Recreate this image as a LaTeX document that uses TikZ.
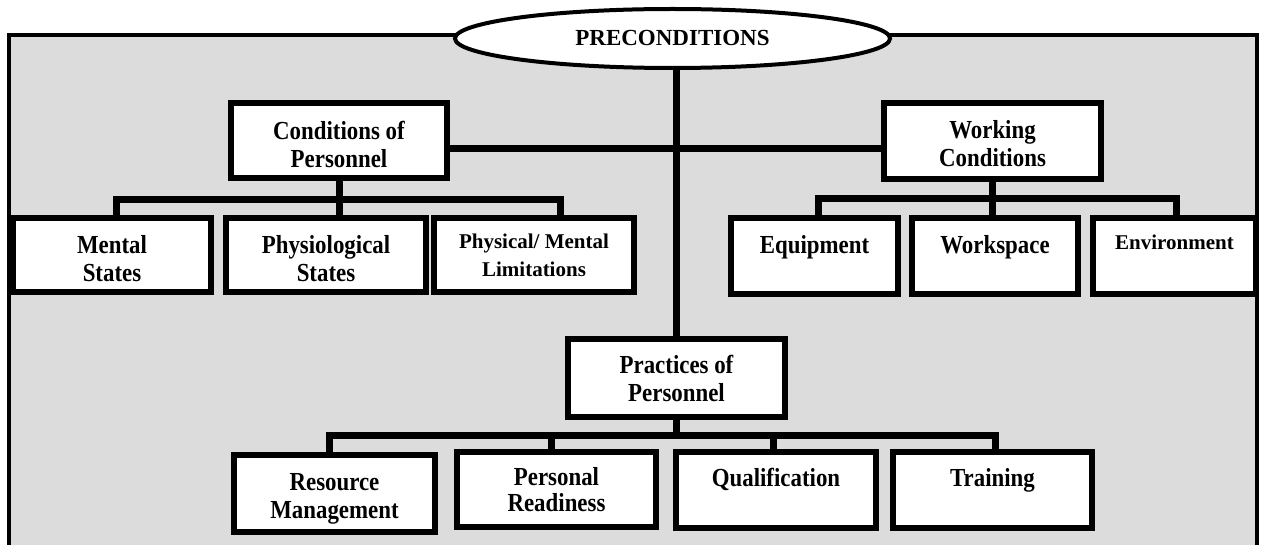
\documentclass[tikz,border=0pt]{standalone}
\usepackage{fontspec}
\setmainfont{Liberation Serif}
\newfontfamily\condfont[FakeStretch=0.88]{Liberation Serif}
\usetikzlibrary{shapes.geometric}
\definecolor{panel}{RGB}{220,220,220}
\newcommand\hs[1]{\rule{0pt}{#1pt}}
\tikzset{
  box/.style={draw=black, fill=white, line width=4pt, inner sep=0pt, align=center,
    font=\condfont\fontsize{26}{28}\selectfont\bfseries},
  smallbox/.style={box, font=\fontsize{21}{28}\selectfont\bfseries},
  titlebox/.style={box, ellipse, font=\fontsize{23}{27}\selectfont\bfseries},
  conn/.style={draw=black, line width=7pt, line join=miter, line cap=butt},
  frameline/.style={draw=black, line width=4pt},
}
\begin{document}
\begin{tikzpicture}[x=1pt,y=-1pt]
\useasboundingbox (0,0) rectangle (1261,545);
\clip (0,0) rectangle (1261,545);
% background frame (open at the bottom)
\fill[panel] (9,35) rectangle (1257,560);
\draw[frameline] (9,560) -- (9,35) -- (1257,35) -- (1257,560);

% nodes
\node[titlebox, minimum width=435pt, minimum height=59pt] (ell) at (672.5,38.5) {PRECONDITIONS};
\node[box, minimum width=214pt, minimum height=73pt] (cond) at (339,140.5) {\hs{27}Conditions of\\Personnel};
\node[box, minimum width=215pt, minimum height=74pt] (work) at (992.5,141) {\hs{24}Working\\Conditions};

\node[box, minimum width=196pt, minimum height=72pt] (mental) at (112,255) {\hs{25}Mental\\States};
\node[box, minimum width=198pt, minimum height=72pt] (physio) at (326,255) {\hs{25}Physiological\\States};
\node[smallbox, minimum width=198pt, minimum height=72pt] (physical) at (534,255) {\hs{16}Physical/ Mental\\Limitations};

\node[box, minimum width=165pt, minimum height=74pt] (equip) at (814.5,256) {\hs{23}Equipment\\\mbox{}};
\node[box, minimum width=164pt, minimum height=74pt] (wspace) at (995,256) {\hs{23}Workspace\\\mbox{}};
\node[smallbox, minimum width=161pt, minimum height=74pt] (env) at (1174.5,256) {\hs{16}Environment\\\mbox{}};

\node[box, minimum width=215pt, minimum height=76pt] (pract) at (676.5,378) {\hs{19}Practices of\\Personnel};

\node[box, minimum width=199pt, minimum height=75pt] (resource) at (334.5,493.5) {\hs{28}Resource\\Management};
\node[box, minimum width=197pt, minimum height=73pt, font=\condfont\fontsize{26}{26}\selectfont\bfseries] (personal) at (556.5,489.5) {\hs{19}Personal\\Readiness};
\node[box, minimum width=198pt, minimum height=74pt] (qual) at (776,490) {\hs{21}Qualification\\\mbox{}};
\node[box, minimum width=197pt, minimum height=74pt] (train) at (992.5,490) {\hs{21}Training\\\mbox{}};

% bus coordinates
\coordinate (hy) at (0,148.5);
\coordinate (cbL) at (116,200);
\coordinate (cbR) at (560,200);
\coordinate (wbL) at (818,199);
\coordinate (wbR) at (1176,199);
\coordinate (pbL) at (329,435.5);
\coordinate (pbR) at (995,435.5);
\coordinate (pdA) at (551,435.5);
\coordinate (pdB) at (773,435.5);

% main connectors
\draw[conn] (pract.north |- ell.south) -- (pract.north);
\draw[conn] (cond.east |- hy) -- (work.west |- hy);

% conditions of personnel bus
\draw[conn] (cbL |- mental.north) -- (cbL) -- (cbR) -- (cbR |- physical.north);
\draw[conn] (cond.south) -- (cond.south |- physio.north);

% working conditions bus
\draw[conn] (wbL |- equip.north) -- (wbL) -- (wbR) -- (wbR |- env.north);
\draw[conn] (work.south) -- (work.south |- wspace.north);

% practices bus
\draw[conn] (pbL |- resource.north) -- (pbL) -- (pbR) -- (pbR |- train.north);
\draw[conn] (pract.south) -- (pract.south |- pbL);
\draw[conn] (pdA) -- (pdA |- personal.north);
\draw[conn] (pdB) -- (pdB |- qual.north);

% redraw box borders on top of connectors
\foreach \n in {cond,work,mental,physio,physical,equip,wspace,env,pract,resource,personal,qual,train}{
  \draw[line width=4pt] (\n.north west) rectangle (\n.south east);
}
\end{tikzpicture}
\end{document}
